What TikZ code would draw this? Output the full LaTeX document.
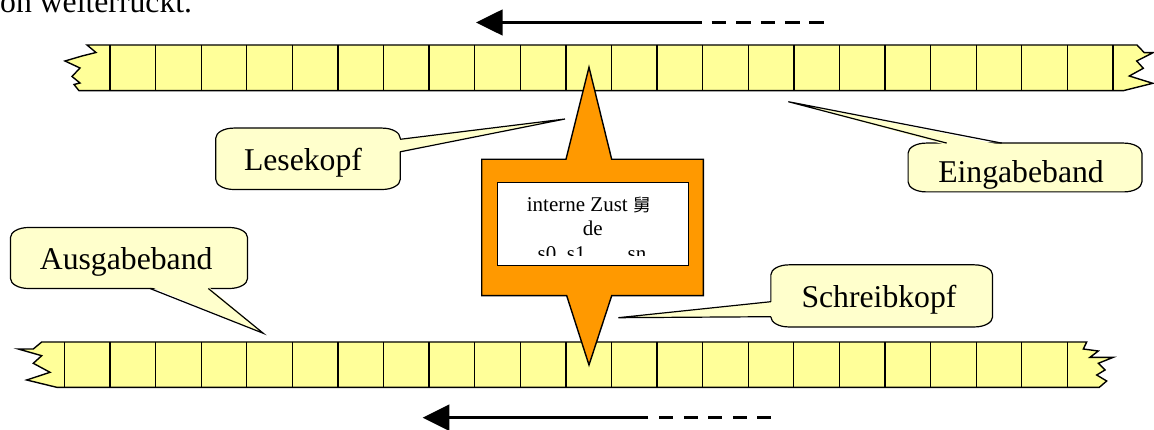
\documentclass[tikz,border=0pt]{standalone}
\usepackage{fontspec}
\setmainfont{Liberation Serif}
\newfontfamily\cjkfont{Noto Sans CJK SC}
\usetikzlibrary{calc}
\definecolor{tapefill}{HTML}{FFFF99}
\definecolor{notefill}{HTML}{FFFFCC}
\definecolor{unitfill}{HTML}{FF9900}

% outline of a callout body with flat elliptical corners, drawn round a named node
\newcommand\notebody[1]{%
  \draw[noteline]
    ($(#1.north west)+(18,0)$) -- ($(#1.north east)+(-18,0)$)
    .. controls ($(#1.north east)+(-8,0)$) and ($(#1.north east)+(0,4.5)$) .. ($(#1.north east)+(0,10)$)
    -- ($(#1.south east)+(0,-10)$)
    .. controls ($(#1.south east)+(0,-4.5)$) and ($(#1.south east)+(-8,0)$) .. ($(#1.south east)+(-18,0)$)
    -- ($(#1.south west)+(18,0)$)
    .. controls ($(#1.south west)+(8,0)$) and ($(#1.south west)+(0,-4.5)$) .. ($(#1.south west)+(0,-10)$)
    -- ($(#1.north west)+(0,10)$)
    .. controls ($(#1.north west)+(0,4.5)$) and ($(#1.north west)+(8,0)$) .. cycle;}

\begin{document}
\begin{tikzpicture}[x=1pt,y=-1pt,
  tape/.style={fill=tapefill, draw=black, line width=1.4pt, line join=miter},
  cell/.style={draw=black, line width=1.3pt},
  unit/.style={fill=unitfill, draw=black, line width=1.4pt, line join=miter},
  statebox/.style={fill=white, draw=black, line width=1.4pt, inner sep=0pt},
  notebox/.style={inner sep=0pt},
  noteline/.style={draw=black, fill=notefill, line width=1.2pt},
  notetail/.style={draw=black, line width=1.2pt, line join=miter},
  notetext/.style={inner sep=0pt, anchor=base, font=\fontsize{31.7}{36}\selectfont},
  statetext/.style={inner sep=0pt, anchor=base, font=\fontsize{21}{24}\selectfont},
  motion/.style={line width=3pt},
  ]
\clip (0,0) rectangle (1154,430);

% leftover line of running text above the picture
\node[notetext, anchor=base west] (caption) at (0,12.5) {on weiterrückt.};

% input tape (top)
\draw[tape] (87,45) -- (1137,45) -- (1144.3,52.7) -- (1153,52.7) -- (1136.7,61)
  -- (1143.3,68.3) -- (1129.3,76) -- (1152.7,83.3) -- (1123.3,90.7) -- (79,90.7)
  -- (74,84.5) -- (80,83) -- (72,76.5) -- (80,68) -- (65,61) -- (82,56) -- (96,52.5) -- cycle;
\foreach \k in {0,...,22}
  \draw[cell] ({110+45.59*\k},45) -- ({110+45.59*\k},90.7);

% output tape (bottom)
\draw[tape] (41.7,342) -- (1086.7,342) -- (1083.3,349) -- (1098.3,351) -- (1090,357.3)
  -- (1113.3,357.3) -- (1098.3,363.3) -- (1105,370) -- (1096.7,375) -- (1106.7,381)
  -- (1099.3,387.3) -- (56.7,387.3) -- (26.7,380) -- (50,372.3) -- (33.3,363.3)
  -- (41.7,355.7) -- (18.3,349) -- (33.3,349) -- cycle;
\foreach \k in {0,...,22}
  \draw[cell] ({64.4+45.59*\k},342) -- ({64.4+45.59*\k},387.3);

% control unit with read head (up) and write head (down)
\draw[unit] (481.7,159.3) -- (566,159.3) -- (589,67.3) -- (611.7,159.3) -- (703.3,159.3)
  -- (703.3,295.7) -- (611.7,295.7) -- (589,365) -- (566.7,295.7) -- (481.7,295.7) -- cycle;
\node[statebox, minimum width=190.6pt, minimum height=83.4pt] (state) at (593,224) {};
\begin{scope}
  \clip (497.7,182.3) rectangle (688.3,256);
  \node[statetext, anchor=base west] (st1) at (526.7,211.7) {interne Zust {\cjkfont\fontsize{17.5}{20}\selectfont 舅}};
  \node[statetext] (st2) at (592.7,236) {de};
  \node[statetext] (st3) at (592,260.3) {s0, s1, …, sn};
\end{scope}

% callout: Lesekopf
\node[notebox, minimum width=184pt, minimum height=61pt] (lese) at (308,158.8) {};
\notebody{lese}
\node[notetext] (lesetext) at (303,170.7) {Lesekopf};
\coordinate (lesetip) at (565,119);
\fill[notefill] ([xshift=-2pt,yshift=19.5pt]lese.east) -- (lesetip) -- ([xshift=-2pt,yshift=7pt]lese.east) -- cycle;
\draw[notetail] ([yshift=19.5pt]lese.east) -- (lesetip) -- ([yshift=7pt]lese.east);

% callout: Eingabeband
\node[notebox, minimum width=233.4pt, minimum height=48.4pt] (ein) at (1025,167.5) {};
\notebody{ein}
\node[notetext] (eintext) at (1021,182.5) {Eingabeband};
\coordinate (eintip) at (788.3,101.7);
\fill[notefill] ([xshift=-23.3pt,yshift=-2pt]ein.north) -- (eintip) -- ([xshift=-78.3pt,yshift=-2pt]ein.north) -- cycle;
\draw[notetail] ([xshift=-23.3pt]ein.north) -- (eintip) -- ([xshift=-78.3pt]ein.north);

% callout: Ausgabeband
\node[notebox, minimum width=236.6pt, minimum height=60.6pt] (aus) at (129,258) {};
\notebody{aus}
\node[notetext] (austext) at (126.2,270) {Ausgabeband};
\coordinate (austip) at (263.3,333.3);
\fill[notefill] ([xshift=21pt,yshift=2pt]aus.south) -- (austip) -- ([xshift=79.3pt,yshift=2pt]aus.south) -- cycle;
\draw[notetail] ([xshift=21pt]aus.south) -- (austip) -- ([xshift=79.3pt]aus.south);

% callout: Schreibkopf
\node[notebox, minimum width=221.3pt, minimum height=61.7pt] (schreib) at (881.7,295.9) {};
\notebody{schreib}
\node[notetext] (schreibtext) at (879,307.3) {Schreibkopf};
\coordinate (schreibtip) at (618.3,317.7);
\fill[notefill] ([xshift=2pt,yshift=-5.8pt]schreib.west) -- (schreibtip) -- ([xshift=2pt,yshift=-20.8pt]schreib.west) -- cycle;
\draw[notetail] ([yshift=-5.8pt]schreib.west) -- (schreibtip) -- ([yshift=-20.8pt]schreib.west);

% direction of tape motion (top)
\coordinate (tdashend) at (824.7,22.5);
\coordinate (tdashstart) at (711.7,22.5);
\coordinate (tsolidend) at (701.7,22.5);
\coordinate (theadbase) at (500,22.5);
\coordinate (ttip) at (476,22.5);
\draw[motion, dash pattern=on 14.7pt off 9.7pt] (tdashstart) -- (tdashend);
\draw[motion] (tsolidend) -- (theadbase);
\fill (ttip) -- (502.7,9.3) -- (502.7,35.7) -- cycle;

% direction of tape motion (bottom)
\coordinate (bdashend) at (771.3,417.7);
\coordinate (bdashstart) at (659.3,417.7);
\coordinate (bsolidend) at (648.3,417.7);
\coordinate (bheadbase) at (446,417.7);
\coordinate (btip) at (422.7,417.7);
\draw[motion, dash pattern=on 14pt off 10.5pt] (bdashstart) -- (bdashend);
\draw[motion] (bsolidend) -- (bheadbase);
\fill (btip) -- (449.3,404.4) -- (449.3,431) -- cycle;
\end{tikzpicture}
\end{document}
